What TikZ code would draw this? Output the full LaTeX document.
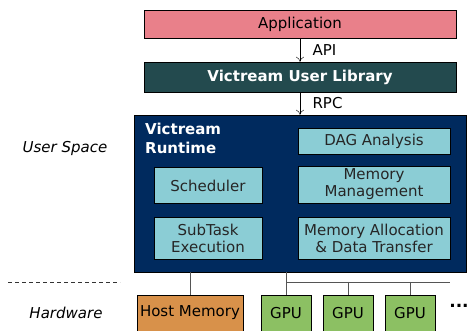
\documentclass[tikz,border=0pt]{standalone}
\usepackage{fontspec}
\setmainfont{DejaVu Sans}
\usepackage{tikz}
\usetikzlibrary{positioning, arrows.meta}

\definecolor{appred}{HTML}{E9808A}
\definecolor{libteal}{HTML}{234A4E}
\definecolor{rtnavy}{HTML}{002A5E}
\definecolor{modcyan}{HTML}{8BCDD5}
\definecolor{hostorange}{HTML}{D8914A}
\definecolor{gpugreen}{HTML}{8CC063}
\definecolor{wiregray}{HTML}{555555}

\begin{document}
\begin{tikzpicture}[x=1pt, y=-1pt,
  font=\fontsize{15}{17}\selectfont,
  >={To[length=5pt, width=8pt]},
  box/.style={draw, thin, inner sep=0pt, align=center},
  module/.style={box, fill=modcyan, text=black!85},
  wire/.style={draw=wiregray, thin}]

\useasboundingbox (0,0) rectangle (469,331);

% software stack
\node[box, fill=appred, minimum width=312pt, minimum height=28pt] (app) at (300,24) {Application};
\node[box, fill=libteal, text=white, font=\fontsize{15}{17}\selectfont\bfseries,
  minimum width=312pt, minimum height=30pt] (lib) at (300,77) {Victream User Library};
\node[box, fill=rtnavy, minimum width=332pt, minimum height=157pt] (rt) at (300,193.5) {};

\draw[->] (app.south) -- (lib.north) node[midway, right=9pt] {API};
\draw[->] (lib.south) -- (rt.north) node[midway, right=9pt] {RPC};

\node[text=white, font=\fontsize{15}{19}\selectfont\bfseries, align=left, anchor=north west,
  inner sep=0pt] (rtname) at (145,123) {Victream\\Runtime};

\node[module, minimum width=152pt, minimum height=26pt] (dag) at (374,141.5) {DAG Analysis};
\node[module, minimum width=152pt, minimum height=37pt] (mem) at (374,184.5) {Memory\\Management};
\node[module, minimum width=152pt, minimum height=42pt] (xfer) at (374,238) {Memory Allocation\\\& Data Transfer};
\node[module, minimum width=108pt, minimum height=36pt] (sched) at (208,185.5) {Scheduler};
\node[module, minimum width=108pt, minimum height=42pt] (exec) at (208,238) {SubTask\\Execution};

% hardware
\node[box, fill=hostorange, minimum width=106pt, minimum height=36pt] (host) at (190,313) {Host Memory};
\node[box, fill=gpugreen, minimum width=50pt, minimum height=36pt] (gpu1) at (286,313) {GPU};
\node[box, fill=gpugreen, minimum width=50pt, minimum height=36pt] (gpu2) at (348,313) {GPU};
\node[box, fill=gpugreen, minimum width=50pt, minimum height=36pt] (gpu3) at (410,313) {GPU};
\node[font=\fontsize{17}{19}\selectfont\bfseries, inner sep=0pt] (more) at (459,306) {...};

\coordinate (busend) at (450,282);
\path[wire] (host.north |- rt.south) -- (host.north);
\path[wire] (gpu1.north |- rt.south) -- (gpu1.north);
\path[wire] (gpu1.north |- busend) -- (busend);
\path[wire] (gpu2.north |- busend) -- (gpu2.north);
\path[wire] (gpu3.north |- busend) -- (gpu3.north);

% layer labels
\node[font=\fontsize{15}{17}\selectfont\itshape] (user) at (65,148) {User Space};
\node[font=\fontsize{15}{17}\selectfont\itshape] (hw) at (66,313) {Hardware};
\coordinate (sepl) at (8,282);
\coordinate (sepr) at (120,282);
\draw[black!80, dash pattern=on 4pt off 3pt] (sepl) -- (sepr);

\end{tikzpicture}
\end{document}
